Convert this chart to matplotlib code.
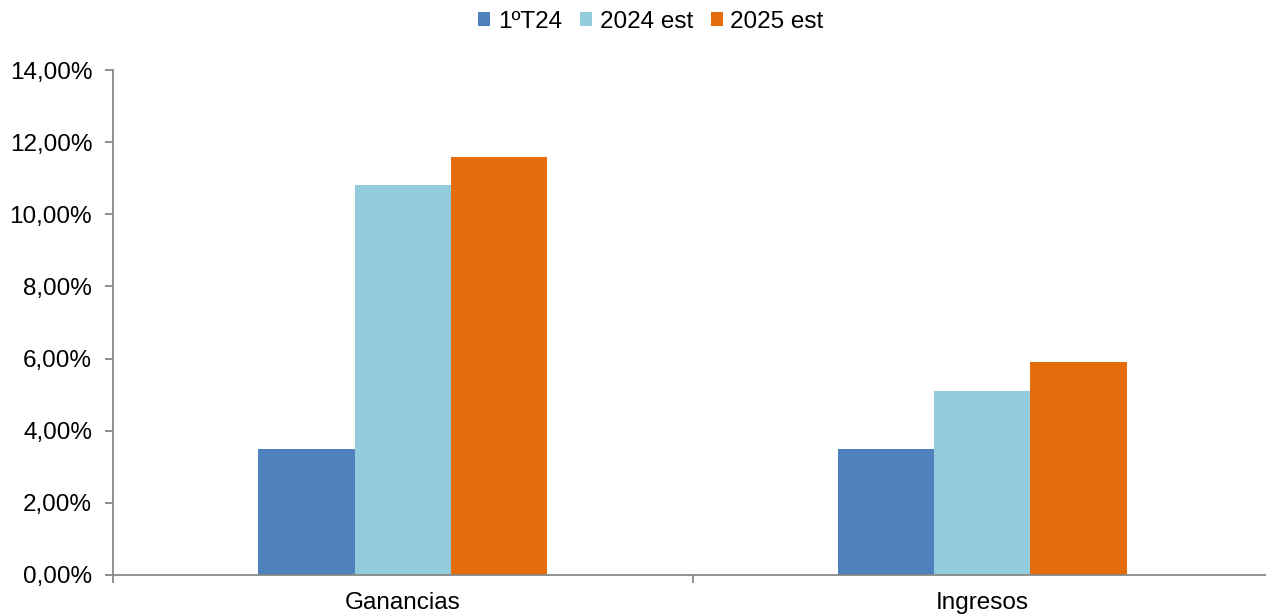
import matplotlib.pyplot as plt
import numpy as np
from matplotlib.ticker import FuncFormatter, FixedLocator

plt.rcParams['font.family'] = ['Liberation Sans', 'DejaVu Sans']

categories = ['Ganancias', 'Ingresos']
series_names = ['1ºT24', '2024 est', '2025 est']
q1_24 = [3.5, 3.5]
est_2024 = [10.8, 5.1]
est_2025 = [11.6, 5.9]
colors = ['#4F81BD', '#93CDDD', '#E46C0A']

fig = plt.figure(figsize=(12.66, 6.14), dpi=100)
ax = fig.add_axes([113 / 1266, 39 / 614, 1159 / 1266, 505 / 614])

x = np.arange(len(categories))
width = 0.166
for i, (vals, name, c) in enumerate(zip([q1_24, est_2024, est_2025], series_names, colors)):
    ax.bar(x + (i - 1) * width, vals, width, color=c, label=name, zorder=2)

ax.set_xlim(-0.5, 1.5)
ax.set_ylim(0, 14)
ax.set_yticks(np.arange(0, 15, 2))
ax.yaxis.set_major_formatter(FuncFormatter(lambda v, p: f'{v:.2f}%'.replace('.', ',')))

ax.set_xticks(x)
ax.set_xticklabels(categories)
ax.xaxis.set_minor_locator(FixedLocator([-0.5, 0.5, 1.5]))
ax.tick_params(axis='x', which='major', length=0, pad=12, labelsize=17.5)
ax.tick_params(axis='x', which='minor', length=6, width=1.3, color='#888888')
ax.tick_params(axis='y', length=6, width=1.3, color='#888888', labelsize=17.5, pad=9)

for s in ['top', 'right']:
    ax.spines[s].set_visible(False)
for s in ['left', 'bottom']:
    ax.spines[s].set_color('#888888')
    ax.spines[s].set_linewidth(1.3)

fig.legend(loc='center', bbox_to_anchor=(651 / 1266, 1 - 22 / 614), ncol=3, frameon=False,
           fontsize=17.5, handlelength=0.5, handleheight=0.5, handletextpad=0.3,
           columnspacing=0.75)

fig.savefig('out.png', dpi=100)
